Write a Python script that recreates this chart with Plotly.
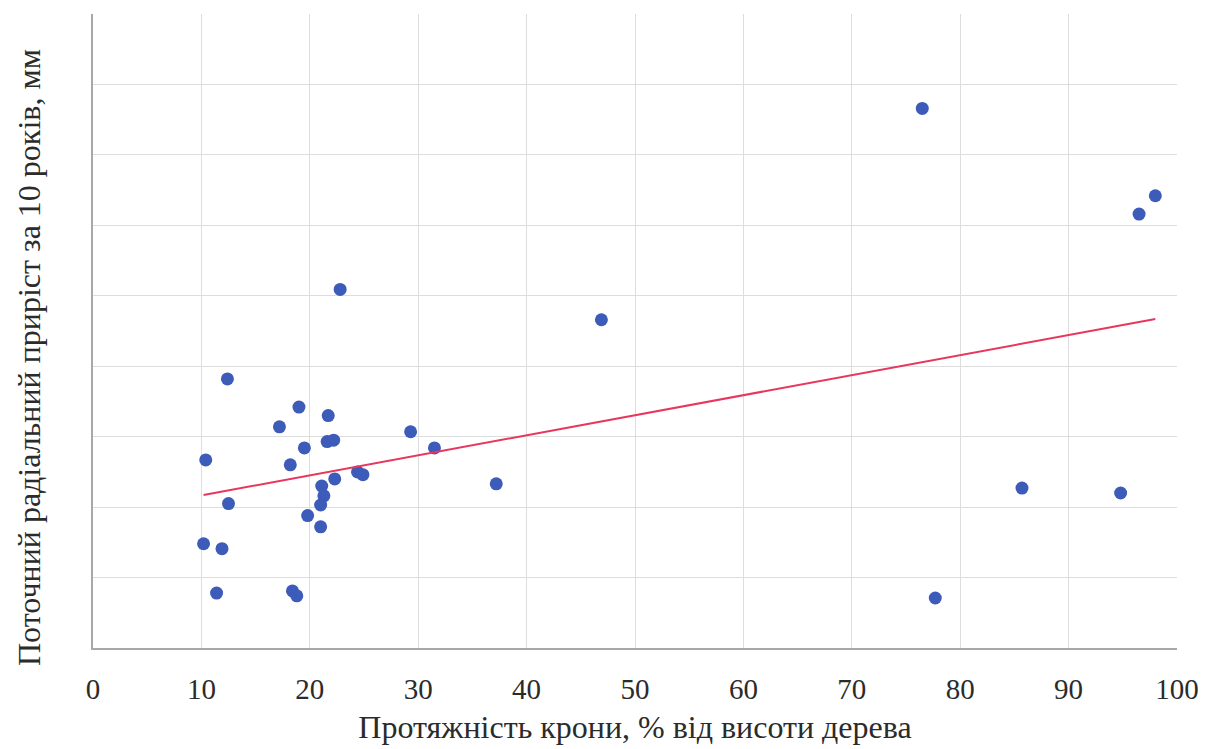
import numpy as np
import plotly.graph_objects as go

# Crown length, % of tree height
crown_pct = [76.5, 98.0, 96.5, 22.8, 46.9, 12.4, 19.0, 21.7, 17.2, 29.3, 22.2, 21.6,
             19.5, 31.5, 10.4, 18.2, 24.4, 24.9, 22.3, 37.2, 85.7, 94.8, 21.1, 21.3,
             12.5, 21.0, 19.8, 21.0, 10.2, 11.9, 11.4, 18.4, 18.8, 77.7]
# Radial increment for 10 years (relative grid units; no tick labels in source)
increment = [7.66, 6.42, 6.16, 5.09, 4.66, 3.82, 3.42, 3.30, 3.14, 3.07, 2.95, 2.93,
             2.84, 2.84, 2.67, 2.60, 2.50, 2.46, 2.40, 2.33, 2.27, 2.20, 2.30, 2.16,
             2.05, 2.03, 1.88, 1.72, 1.48, 1.41, 0.78, 0.81, 0.74, 0.71]

x_ticks = [0, 10, 20, 30, 40, 50, 60, 70, 80, 90, 100]

x = np.array(crown_pct)
y = np.array(increment)
slope, intercept = np.polyfit(x, y, 1)
tx = np.array([x.min(), x.max()])
ty = slope * tx + intercept

fig = go.Figure()
fig.add_trace(go.Scatter(x=crown_pct, y=increment, mode="markers",
                         marker=dict(size=13, color="#3D5BB8"),
                         showlegend=False, hoverinfo="x+y"))
fig.add_trace(go.Scatter(x=tx, y=ty, mode="lines",
                         line=dict(color="#E8365D", width=2),
                         showlegend=False, hoverinfo="skip"))

font_family = "Liberation Serif"
text_color = "#2B2B2B"
fig.update_layout(
    width=1216, height=749,
    margin=dict(l=85, r=47, t=6, b=109),
    paper_bgcolor="white", plot_bgcolor="white",
    font=dict(family=font_family, color=text_color),
    xaxis=dict(range=[0, 100], tickvals=x_ticks, ticktext=[str(v) for v in x_ticks],
               showgrid=True, gridcolor="#DDDDDD", gridwidth=1,
               showline=True, linecolor="#A8A8A8", linewidth=1.5,
               zeroline=False, ticks="outside", ticklen=14, tickcolor="rgba(0,0,0,0)",
               tickfont=dict(size=29, family=font_family, color=text_color),
               title=dict(text="Протяжність крони, % від висоти дерева",
                          font=dict(size=32, family=font_family, color=text_color), standoff=12)),
    yaxis=dict(range=[0, 9], dtick=1, showticklabels=False,
               showgrid=True, gridcolor="#DDDDDD", gridwidth=1,
               showline=True, linecolor="#A8A8A8", linewidth=1.5,
               zeroline=False, ticks=""),
    annotations=[dict(text="Поточний радіальний приріст за 10 років, мм",
                      xref="paper", yref="paper", x=(29 - 93) / 1084, y=(648 - 358) / 634,
                      xanchor="center", yanchor="middle", textangle=-90, showarrow=False,
                      font=dict(size=32, family=font_family, color=text_color))],
)

fig.write_html("out.html")
